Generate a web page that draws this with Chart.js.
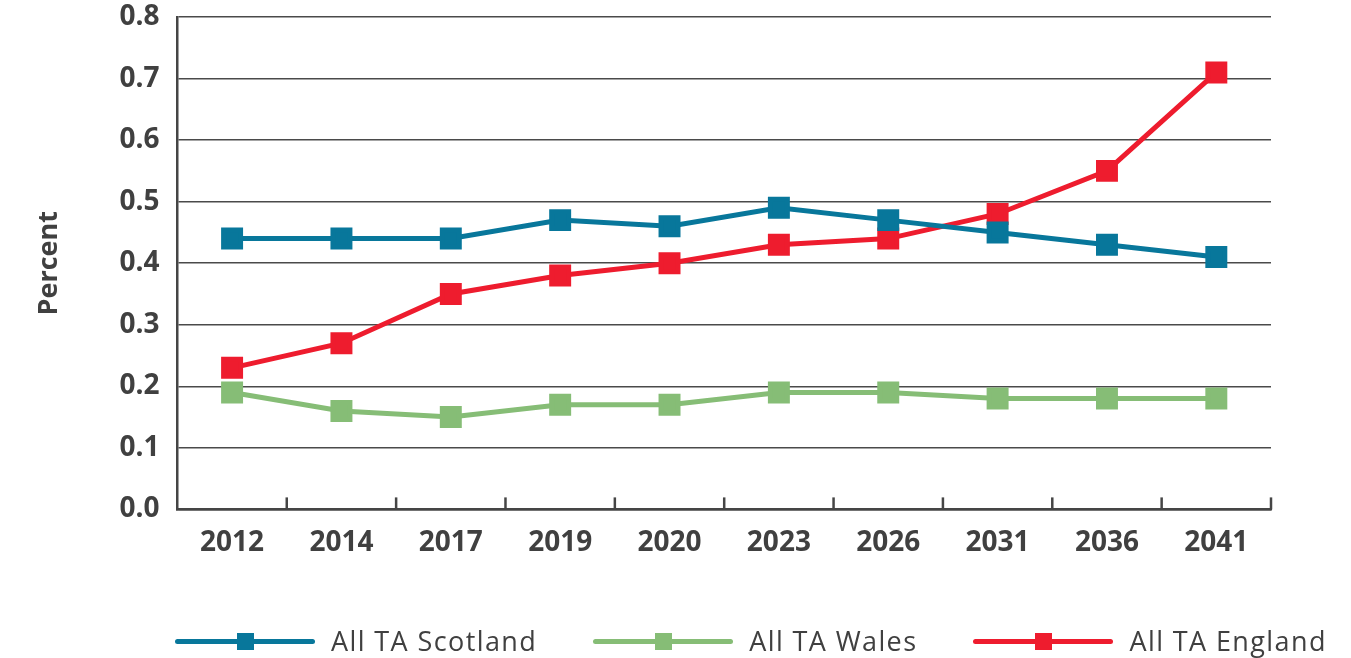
<!DOCTYPE html>
<html>
<head>
<meta charset="utf-8">
<script src="https://cdn.jsdelivr.net/npm/chart.js@4/dist/chart.umd.min.js"></script>
<style>
  body { margin: 0; background: #fff; }
  #wrap { position: relative; width: 1351px; height: 658px; }
  #legend { position: absolute; left: 175px; top: 622px; display: flex; gap: 56px;
            font-family: "Open Sans", sans-serif; font-size: 27px; font-weight: 500;
            letter-spacing: 1.4px; color: #404040; }
  .item { display: flex; align-items: center; gap: 16px; }
  .swatch { position: relative; width: 140px; height: 36px; }
  .swatch .ln { position: absolute; left: 0; right: 0; top: 16px; height: 5px; border-radius: 3px; }
  .swatch .sq { position: absolute; left: 62px; top: 10px; width: 17px; height: 17px; }
</style>
</head>
<body>
<div id="wrap">
  <canvas id="chart" width="1351" height="658"></canvas>
  <div id="legend"></div>
</div>
<script>
var years = ["2012", "2014", "2017", "2019", "2020", "2023", "2026", "2031", "2036", "2041"];
var scotland = [0.44, 0.44, 0.44, 0.47, 0.46, 0.49, 0.47, 0.45, 0.43, 0.41];
var wales = [0.19, 0.16, 0.15, 0.17, 0.17, 0.19, 0.19, 0.18, 0.18, 0.18];
var england = [0.23, 0.27, 0.35, 0.38, 0.40, 0.43, 0.44, 0.48, 0.55, 0.71];

var textColor = "#404040";
var axisColor = "#454545";

function series(label, data, color) {
  return {
    label: label,
    data: data,
    borderColor: color,
    backgroundColor: color,
    borderWidth: 5,
    pointStyle: "rect",
    pointRadius: 12,
    pointHoverRadius: 12,
    tension: 0,
  };
}

// small tick marks pointing up from the x axis, between the categories
var innerTicks = {
  id: "innerTicks",
  afterDatasetsDraw(chart) {
    var x = chart.scales.x;
    var area = chart.chartArea;
    var band = (area.right - area.left) / years.length;
    var ctx = chart.ctx;
    ctx.save();
    ctx.strokeStyle = axisColor;
    ctx.lineWidth = 2.5;
    for (var i = 0; i < years.length; i++) {
      var px = x.getPixelForTick(i) + band / 2;
      ctx.beginPath();
      ctx.moveTo(px, area.bottom);
      ctx.lineTo(px, area.bottom - 12);
      ctx.stroke();
    }
    ctx.restore();
  },
};

var chart = new Chart(document.getElementById("chart"), {
  type: "line",
  data: {
    labels: years,
    datasets: [
      series("All TA Scotland", scotland, "#08779b"),
      series("All TA Wales", wales, "#86bd76"),
      series("All TA England", england, "#ee1c2e"),
    ],
  },
  options: {
    responsive: false,
    animation: false,
    layout: { padding: { left: 33, right: 80, top: 0, bottom: 81 } },
    plugins: {
      legend: { display: false },
      tooltip: { enabled: false },
    },
    scales: {
      x: {
        offset: true,
        grid: { display: false, drawTicks: false },
        border: { display: true, color: axisColor, width: 2.5 },
        ticks: {
          color: textColor,
          padding: 17,
          font: { family: "Open Sans", size: 28, weight: "bold" },
        },
      },
      y: {
        min: 0,
        max: 0.8,
        grid: { color: "#4a4a4a", lineWidth: 1.5, drawTicks: true, tickLength: 18, tickColor: "rgba(0,0,0,0)" },
        border: { display: true, color: axisColor, width: 2.5 },
        ticks: {
          stepSize: 0.1,
          color: textColor,
          padding: 0,
          font: { family: "Open Sans", size: 28, weight: "bold" },
          callback: function (v) { return v.toFixed(1); },
        },
        title: {
          display: true,
          text: "Percent",
          color: textColor,
          padding: { top: 0, bottom: 54 },
          font: { family: "Open Sans", size: 27, weight: "bold" },
        },
      },
    },
  },
  plugins: [innerTicks],
});

// html legend: line with a square marker, built from the datasets
var legend = document.getElementById("legend");
chart.data.datasets.forEach(function (ds) {
  var item = document.createElement("div");
  item.className = "item";
  item.innerHTML =
    '<div class="swatch"><div class="ln" style="background:' + ds.borderColor + '"></div>' +
    '<div class="sq" style="background:' + ds.borderColor + '"></div></div>' +
    "<span>" + ds.label + "</span>";
  legend.appendChild(item);
});
</script>
</body>
</html>
